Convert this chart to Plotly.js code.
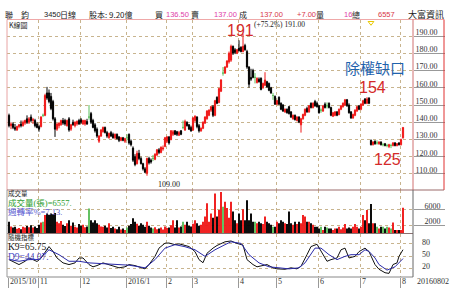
<!DOCTYPE html>
<html><head><meta charset="utf-8">
<script src="https://cdn.plot.ly/plotly-3.0.1.min.js"></script>
<style>html,body{margin:0;padding:0;background:#fff;overflow:hidden}#c{width:450px;height:288px}</style>
</head><body><div id="c"></div><script>
// ---- data (daily, 2015/10 .. 2016/08/02) ----
const openP = [
144,138,139,137,135.5,137.5,139,138,139.5,142,
140,143,141,141,139,137.5,137.5,144,144,157,
157,155,152,142,136,138,138.5,141,141,138,
142,136,140,138,139,141,141.5,139,139,140.5,
143,145,141,138.5,136,129,132,134.5,137,134,
131,134,133,131,133,131.5,129.5,131,129,131,
133,129,125,120,116,122,119,116,113,110.5,
119,118,119,118.5,121,124,122.5,124.5,126,129,
131.5,130,133,135,134.5,132.5,135,137,135.5,140,
138.5,137,135.5,141,143,138,135,136.5,139.5,142,
144,147,149,144,154.5,151.5,158,168.5,168.5,172,
175,176,184,182,180,183,183.5,181,184.5,181,
172,166,170,166,163,165,165.5,160,161.5,163.5,
162.5,160,155.5,155,150.5,154.5,151,150,146,147.5,
149,146,142,144,141,143,138.5,142,144,148,
146,151,148.5,152,151,149.5,147,146.5,150.5,149.5,
151,148.5,143.5,144,146,144.5,147.5,149,150,153,
150,146,142.5,144,146.5,149.5,147.5,150,153.5,151,
154,129.5,127,129,128,127.5,128.5,127,127.5,126.5,
126,126.5,126.5,128,126.5,128,127,131];
const highP = [
145,140,140,139,138,139,141,141,141.5,144,
143,144.5,142.5,142,140,138.5,143.5,145,156.5,160.5,
159,157,153,143,139.5,140,141.5,142.5,142,141.5,
143,139,141.5,140.5,141,142,142.5,141.5,141.5,142,
150,146,142,139.5,137,132.5,136,137.5,137.5,135,
134,135,134,133.5,133.5,132,131.5,131.5,131,133,
133.5,130,126,121.5,123.5,124,120,116.5,114,119.5,
120,119,121,122,124.5,125,126,126.5,131.5,132,
132,135.5,135.5,135.5,135,135,135.5,141,141.5,140.5,
139,138,143,144,143.5,139,137,140.5,143.5,147,
147.5,149.5,150,153,155,160,165,172,172.5,176,
181,185,184.5,183,182.5,187.5,184,191,185.5,182,
172.5,171,171,168.5,166,166,166,163,169,164,
163,160.5,157,155.5,153,155,151.5,150.5,148,148,
149.5,146.5,144.5,144.5,143.5,143.5,142.5,145,148,149,
150,151.5,151.5,153,152,150,148,150,151.5,151.5,
151.5,149,146,146.5,146.5,148,150,151.5,153.5,153.5,
151,146.5,145,147.5,149.5,150,151,153,154,154.5,
154.5,130,129,129.5,129.5,129,129,128,128,127.5,
127.5,127.5,128.5,128.5,128,128.5,130.5,137];
const lowP = [
137,136,136,135,135,136.5,137,137.5,138.5,139,
139,140,139,137,136.5,134.5,137,143,143.5,153,
151,147,141,131.5,135,136.5,138,138.5,138,137.5,
134.5,135,138,137,138,138.5,139,138.5,138,138.5,
141.5,139,136.5,134,131,128,131.5,134,133.5,131,
130.5,131.5,130.5,130,130,128.5,129,129,128,129.5,
127,126,117,114.5,115.5,118,115.5,112,110.5,109,
115.5,116,117.5,118,120.5,121.5,122,123.5,125.5,128,
127,129.5,132,132.5,132,132,132.5,136,135,137.5,
135.5,134.5,135,140,136.5,134,134.5,136,139,141.5,
143.5,146,143,143.5,150.5,151,157.5,167,168,171.5,
174,175,179,179.5,179.5,181,180.5,180.5,181.5,171,
160,164,165.5,162.5,162.5,163,158.5,159.5,161,160,
158,156.5,153,150,150,150,147,146,145.5,145,
144.5,142.5,141.5,141,140.5,139.5,134,141.5,143.5,145.5,
145.5,148,148,149,148.5,145,145.5,146,148,148,
148,143.5,143,143.5,143.5,144,147,148.5,149.5,149,
145,142,142,143.5,146,147,147,149.5,150.5,150.5,
150.5,126.5,126.5,127,127,127,126.5,126,126,125.5,
125,125,126,126,126,126.5,126.5,130.5];
const closeP = [
138,139,137,136,137.5,138.5,138,140,141,140,
142,141,141.5,138,137,136,143,144,155.5,154,
152,148,142,136,139,139.5,141,139.5,139,141,
135.5,138.5,138.5,140,140.5,139,140,141,141,139,
143,140,137,135,132,132,135.5,137,134,132,
133.5,132,131,133,130.5,129.5,131,129.5,130.5,131,
128,127,118,115.5,122,119,116,113,111,119,
116.5,117,119,121.5,124,122.5,125.5,125,131,131.5,
128,135,134.5,133,133,134,133,137,140.5,138,
136,135,142.5,143.5,137.5,135,136.5,140,143,146.5,
147,149,144,152.5,151,159.5,164.5,168.5,172,175.5,
180,184,180,180.5,182,181.5,181,184,182,172,
162,165,166,166,165.5,163.5,159,162.5,164.5,160.5,
158.5,157,155.5,150.5,152.5,150.5,147.5,146.5,147.5,145.5,
145,143,144,141.5,143,140,142,144.5,147.5,146,
149.5,148.5,151,149.5,149,145.5,147,149.5,148.5,149.5,
148.5,144,145.5,146,144,147.5,149.5,151,153,149.5,
145.5,142.5,144.5,147,149,147.5,150.5,152.5,151,153.5,
151,127,128.5,127.5,128,128.5,127,127,126.5,126.5,
127,126.5,128,126.5,127.5,127,130,137];
const volume = [
3000,1800,1500,1700,1200,1400,1100,1700,1500,1900,
1600,2100,1500,1800,1400,2200,2800,3000,4700,5100,
4800,5100,4900,5200,3000,2600,3200,2200,1900,2600,
3400,2000,2800,1700,1500,2400,2000,2200,1600,1800,
6400,3400,2800,3400,2600,2200,1800,1700,2000,1500,
2600,1400,1700,1300,1100,1700,1000,1300,900,1500,
2000,2400,3900,3000,2500,2000,2600,2200,1700,3000,
2000,1500,1300,1600,1100,1300,1500,1000,1800,1400,
1500,2100,3400,1500,3400,1500,1800,3000,2200,3000,
2000,1800,2500,3400,2600,2000,2200,3000,4300,7700,
3000,5100,4000,10200,4300,6000,10600,6800,8100,6500,
4000,8100,5600,3400,2600,5100,3400,6200,3400,8500,
3400,5100,3000,3000,2600,3000,2600,2400,4300,3000,
2600,2200,1700,1700,3000,2600,3400,3000,2600,2400,
5600,2600,2200,3000,2400,3000,2600,4700,4300,3000,
3000,2600,2200,1700,1700,1300,1700,900,1700,1500,
1300,1300,900,1300,1300,1700,1100,1500,2400,1300,
1500,1300,1700,2400,1700,1300,1700,4700,3400,6000,
2600,7500,2600,2600,1700,1300,1700,1700,1300,1700,
1500,1300,2800,900,900,900,900,6557];
const kIdx = [0,3,5,8,10,12,14,16,20,22,24,27,30,33,35,37,40,42,44,47,50,52,55,58,60,63,65,68,70,73,75,78,80,83,85,88,90,93,95,97,99,102,104,108,111,114,117,119,122,124,127,129,132,134,138,141,144,146,149,151,154,156,159,161,164,166,168,170,173,175,178,180,183,185,188,190,192,194,195,197];
const kVal = [41.5,33.6,29.5,37.4,45.6,41.5,37,45,73.4,61.4,45.6,33.6,29.5,33.6,45.6,45.6,29.5,24,27,33.6,29.5,25.5,21.6,24,29.5,27,24,19,29.5,49.5,69.6,81.6,82,78,80,76,73.4,61,41.5,34,57,69.6,76,85,87,81,77,41.5,29.5,24,27,29.5,21.6,19,18,21.6,19,25.5,53.6,73.4,79,61,37.5,41.5,45.6,65.5,69.6,45.6,49.5,61,69.6,61,29.5,18,9.6,8,29.5,33.6,49.5,65.75];
const dIdx = [0,5,10,15,20,25,30,35,40,45,50,55,60,68,73,78,83,88,93,98,103,108,111,116,120,125,130,135,140,145,148,153,156,160,164,168,171,175,178,180,183,185,189,193,195,197];
const dVal = [42,37.5,41.5,42,65.5,53.6,37.5,37.5,33.6,32,31,28,28,21.6,41.5,69.6,78,73,65.5,49.5,65.5,78,85,81,53.6,33.6,24,21.6,19,21.6,33.6,69.6,69.6,53.6,41.5,49.5,53.6,53.6,65.5,61.5,45.6,29.5,16,24,33.6,44.07];
const monthIdx = [0,15,36,59,79,92,115,134,155,176,196];
const monthLabels = ['2015/10','11','12','2016/1','2','3','4','5','6','7','8'];
const lastDate = '20160802';
const exRightsIdx = 181;
const priceTicks = [110,120,130,140,150,160,170,180,190];
const volTicks = [2000,6000];
const kdTicks = [20,50,80];

// ---- geometry ----
const W=450,H=288,ML=7,MR=37,MT=20,MB=11;
const PW=W-ML-MR, PH=H-MT-MB;
const px = x => (x-ML)/PW;
const py = y => (H-MB-y)/PH;

const RED='#f01818', BLACK='#000000', GREEN='#5cbf5c', BLUE='#2a2aa8';
const N = closeP.length;
const idx = Array.from({length:N},(_,i)=>i);
const isDoji = i => openP[i]===closeP[i];
const nd = idx.filter(i=>!isDoji(i)), dj = idx.filter(isDoji);
const pick = (a,ids)=>ids.map(i=>a[i]);
const cColor = i => closeP[i]>openP[i]?RED:(closeP[i]<openP[i]?BLACK:GREEN);

const priceRange=[100.72,199.28], volRange=[0,11083], kdRange=[-0.8,105.2];

const traces = [
 {type:'candlestick', x:nd, open:pick(openP,nd), high:pick(highP,nd), low:pick(lowP,nd), close:pick(closeP,nd),
  xaxis:'x', yaxis:'y', whiskerwidth:0,
  increasing:{line:{color:RED,width:1},fillcolor:RED},
  decreasing:{line:{color:BLACK,width:1},fillcolor:BLACK}, hoverinfo:'skip', showlegend:false},
 {type:'candlestick', x:dj, open:pick(openP,dj), high:pick(highP,dj), low:pick(lowP,dj), close:pick(closeP,dj),
  xaxis:'x', yaxis:'y', whiskerwidth:0,
  increasing:{line:{color:GREEN,width:1},fillcolor:GREEN},
  decreasing:{line:{color:GREEN,width:1},fillcolor:GREEN}, hoverinfo:'skip', showlegend:false},
 {type:'bar', x:idx, y:volume, xaxis:'x', yaxis:'y2', marker:{color:idx.map(cColor), line:{width:0}}, showlegend:false},
 {type:'scatter', mode:'lines', x:kIdx, y:kVal, xaxis:'x', yaxis:'y3', line:{color:'#111',width:1}, showlegend:false},
 {type:'scatter', mode:'lines', x:dIdx, y:dVal, xaxis:'x', yaxis:'y3', line:{color:BLUE,width:1}, showlegend:false},
 {type:'scatter', mode:'markers', x:[exRightsIdx], y:[priceRange[1]-1.6], xaxis:'x', yaxis:'y',
  marker:{symbol:'triangle-down-open', size:5, color:'#e8c800', line:{width:1}}, showlegend:false}
];

const GRID='#c8b48e';
const tickFont={family:'Liberation Serif', size:8, color:'#333'};
const layout = {
 width:W, height:H, margin:{l:ML,r:MR,t:MT,b:MB,pad:0},
 paper_bgcolor:'#fff', plot_bgcolor:'#fff', showlegend:false, bargap:0.05, boxgap:0.15,
 font:{family:'Liberation Serif, Noto Sans CJK TC', size:8, color:'#222'},
 xaxis:{range:[-1,202], anchor:'y3', tickvals:monthIdx.map(m=>m-0.5), showticklabels:false,
   ticks:'outside', ticklen:10, tickcolor:'#999', showgrid:true, gridcolor:GRID, griddash:'dot', gridwidth:1,
   zeroline:false, showline:false, rangeslider:{visible:false}, fixedrange:true},
 yaxis:{domain:[py(190),1], range:priceRange, side:'right', anchor:'x', tickvals:priceTicks,
   ticktext:priceTicks.map(v=>v.toFixed(2)), ticks:'outside', ticklen:31, tickcolor:'#999',
   tickfont:tickFont, ticklabelstandoff:-31, ticklabelshift:-4,
   showgrid:true, gridcolor:GRID, griddash:'dot', zeroline:false, showline:false, fixedrange:true},
 yaxis2:{domain:[py(233.5),py(190)], range:volRange, side:'right', anchor:'x', tickvals:volTicks,
   ticktext:volTicks.map(String), ticks:'outside', ticklen:31, tickcolor:'#999',
   tickfont:tickFont, ticklabelstandoff:-22, ticklabelshift:-4,
   showgrid:true, gridcolor:GRID, griddash:'dot', zeroline:false, showline:false, fixedrange:true},
 yaxis3:{domain:[0,py(233.5)], range:kdRange, side:'right', anchor:'x', tickvals:kdTicks,
   ticktext:kdTicks.map(String), ticks:'', tickfont:tickFont, ticklabelstandoff:8, ticklabelshift:-2,
   showgrid:true, gridcolor:GRID, griddash:'dot', zeroline:false, showline:false, fixedrange:true},
 shapes:[], annotations:[]
};

const seg=(x0,y0,x1,y1,color)=>({type:'line',xref:'paper',yref:'paper',x0:px(x0),x1:px(x1),y0:py(y0),y1:py(y1),line:{color:color,width:1},layer:'above'});
layout.shapes.push(
 seg(7,19.5,444,19.5,'#efa8a8'),
 seg(7,19.5,7,190,'#e8a4a4'),
 seg(413,19.5,413,190,'#d07070'),
 seg(444,19.5,444,190,'#e03030'),
 seg(7,190,444,190,'#9b6b6b'),
 seg(7,233.5,413,233.5,'#8a7070'),
 seg(7,277,413,277,'#888'),
 seg(7,190,7,277,'#999'),
 seg(413,190,413,277,'#666')
);

const txt=(x,y,t,o={})=>Object.assign({xref:'paper',yref:'paper',x:px(x),y:py(y),text:t,showarrow:false,borderpad:0,
  xanchor:'left',yanchor:'middle',font:{family:'Noto Sans CJK TC, Liberation Sans',size:8,color:'#222'}},o);
const HF='Noto Sans CJK TC, Liberation Sans';
const NF='Liberation Sans';
const MAG='#e040a8', HRED='#d83848';
// header: [x, text, color, isNumber]
[[4,'聯'],[20,'鈞'],[43,'3450',null,1],[59,'日線'],[88,'股本: 9.20億'],[154,'買'],[165,'136.50',MAG,1],[190,'賣'],
 [213,'137.00',MAG,1],[238,'成'],[259,'137.00',HRED,1],[296,'+7.00',HRED,1],[315,'量'],[343,'16',MAG,1],[351,'總'],
 [377,'6557',HRED,1],[407,'大富資訊']].forEach(h=>{
  layout.annotations.push(txt(h[0],14,h[1],{font:{family:h[3]?NF:HF,size:h[3]?7.5:(h[0]===407?9:8),color:h[2]||'#222'}}));
});
// panel titles / legends
const SF='Liberation Serif, Noto Sans CJK TC';
layout.annotations.push(
 txt(8,24.5,'K線圖',{font:{family:HF,size:7,color:'#222'}}),
 txt(7,193,'成交量',{font:{family:HF,size:6.5,color:'#222'}}),
 txt(7,203,'成交量(張)=6557.',{font:{family:SF,size:8.5,color:'#2e9e2e'}}),
 txt(7,211.5,'週轉率%=7.13.',{font:{family:SF,size:8.5,color:'#5a5ad0'}}),
 txt(7,236.5,'隨機指標',{font:{family:HF,size:6.5,color:'#222'}}),
 txt(7,246.5,'K9=65.75.',{font:{family:SF,size:9.5,color:'#111'}}),
 txt(7,256.5,'D9=44.07.',{font:{family:SF,size:9.5,color:'#4a4ac8'}}),
 txt(240,31,'191',{xanchor:'center',font:{family:'Liberation Sans',size:16,color:'#d42a2a'}}),
 txt(253,24.5,'(+75.2%) 191.00',{font:{family:SF,size:7.5,color:'#222'}}),
 txt(375,67.5,'除權缺口',{xanchor:'center',font:{family:'Noto Sans CJK TC',size:15,color:'#1f63ad'}}),
 txt(372.5,88,'154',{xanchor:'center',font:{family:'Liberation Sans',size:16,color:'#d42a2a'}}),
 txt(387.5,159,'125',{xanchor:'center',font:{family:'Liberation Sans',size:16,color:'#d42a2a'}}),
 txt(157,184.5,'109.00',{font:{family:SF,size:8,color:'#222'}}),
 txt(416,281.5,lastDate,{font:{family:SF,size:8,color:'#333'}})
);
// date labels
monthIdx.forEach((m,k)=>{
  layout.annotations.push({xref:'x',yref:'paper',x:m-0.5,y:py(281.5),xanchor:'left',yanchor:'middle',xshift:1,borderpad:0,
    text:monthLabels[k],showarrow:false,font:{family:SF,size:8,color:'#333'}});
});

Plotly.newPlot('c',traces,layout,{staticPlot:true,displayModeBar:false});
</script></body></html>
